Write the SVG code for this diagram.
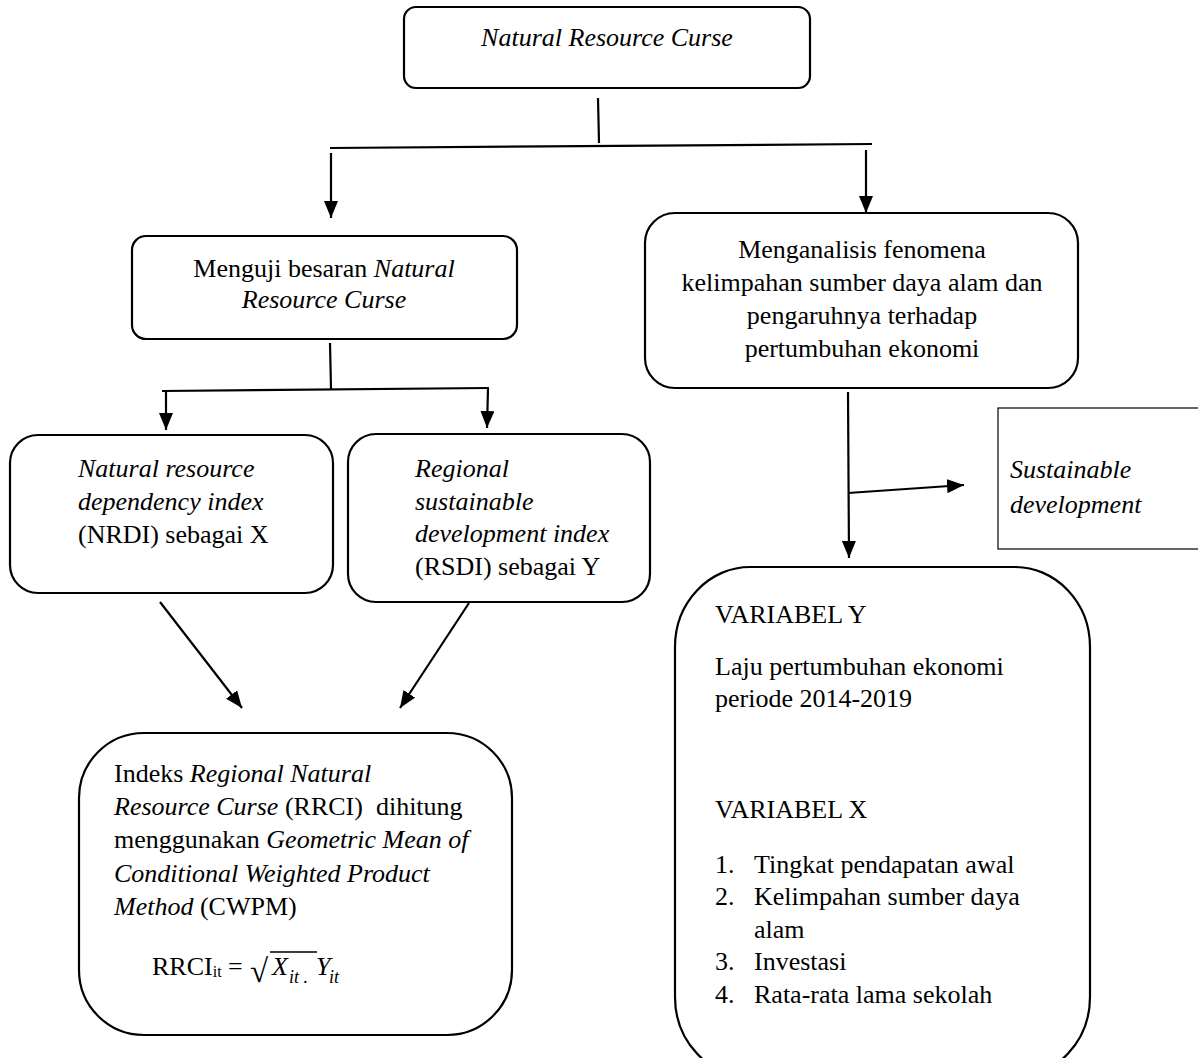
<svg xmlns="http://www.w3.org/2000/svg" width="1198" height="1058" viewBox="0 0 1198 1058">
<style>
text{font-family:"Liberation Serif","Times New Roman",serif;font-size:26px;fill:#000}
.i{font-style:italic}
.c{text-anchor:middle}
.box{fill:#fff;stroke:#000;stroke-width:2.2}
.thin{fill:#fff;stroke:#000;stroke-width:1.2}
.ln{stroke:#000;stroke-width:2.2;fill:none}
.sub{font-size:16px}
</style>
<defs>
<marker id="ah" markerUnits="userSpaceOnUse" markerWidth="18" markerHeight="15" refX="17" refY="7" orient="auto">
<path d="M0,0 L17,7 L0,14 z" fill="#000"/>
</marker>
</defs>
<rect width="1198" height="1058" fill="#fff"/>
<g id="connectors">
<line class="ln" x1="598" y1="98" x2="599" y2="143"/>
<line class="ln" x1="330" y1="148" x2="872" y2="144"/>
<line class="ln" x1="331" y1="153" x2="331" y2="218" marker-end="url(#ah)"/>
<line class="ln" x1="866" y1="150" x2="866" y2="213" marker-end="url(#ah)"/>
<line class="ln" x1="330" y1="343" x2="331" y2="389"/>
<line class="ln" x1="162" y1="391" x2="489" y2="388"/>
<line class="ln" x1="166" y1="391" x2="166" y2="430" marker-end="url(#ah)"/>
<line class="ln" x1="488" y1="388" x2="487" y2="428" marker-end="url(#ah)"/>
<line class="ln" x1="160" y1="602" x2="242" y2="708" marker-end="url(#ah)"/>
<line class="ln" x1="469" y1="603" x2="400" y2="708" marker-end="url(#ah)"/>
<line class="ln" x1="848" y1="392" x2="849" y2="558" marker-end="url(#ah)"/>
<line class="ln" x1="848" y1="493" x2="964" y2="485" marker-end="url(#ah)"/>
</g>
<g id="n-top">
<rect class="box" x="404" y="7" width="406" height="81" rx="12"/>
<text class="c i" x="607" y="46">Natural Resource Curse</text>
</g>
<g id="n-menguji">
<rect class="box" x="132" y="236" width="385" height="103" rx="14"/>
<text class="c" x="324" y="277">Menguji besaran <tspan class="i">Natural</tspan></text>
<text class="c i" x="324" y="308">Resource Curse</text>
</g>
<g id="n-menganalisis">
<rect class="box" x="645" y="213" width="433" height="175" rx="30"/>
<text class="c" x="862" y="258">Menganalisis fenomena</text>
<text class="c" x="862" y="291">kelimpahan sumber daya alam dan</text>
<text class="c" x="862" y="324">pengaruhnya terhadap</text>
<text class="c" x="862" y="357">pertumbuhan ekonomi</text>
</g>
<g id="n-nrdi">
<rect class="box" x="10" y="435" width="323" height="158" rx="28"/>
<text class="i" x="78" y="477">Natural resource</text>
<text class="i" x="78" y="510">dependency index</text>
<text x="78" y="543">(NRDI) sebagai X</text>
</g>
<g id="n-rsdi">
<rect class="box" x="348" y="434" width="302" height="168" rx="28"/>
<text class="i" x="415" y="477">Regional</text>
<text class="i" x="415" y="510">sustainable</text>
<text class="i" x="415" y="542">development index</text>
<text x="415" y="575">(RSDI) sebagai Y</text>
</g>
<g id="n-sustainable">
<rect class="thin" x="998" y="408" width="212" height="141"/>
<text class="i" x="1010" y="478">Sustainable</text>
<text class="i" x="1010" y="513">development</text>
</g>
<g id="n-rrci">
<rect class="box" x="79" y="733" width="433" height="302" rx="65"/>
<text x="114" y="782">Indeks <tspan class="i">Regional Natural</tspan></text>
<text x="114" y="815"><tspan class="i">Resource Curse</tspan> (RRCI) &#160;dihitung</text>
<text x="114" y="848">menggunakan <tspan class="i">Geometric Mean of</tspan></text>
<text x="114" y="882" class="i">Conditional Weighted Product</text>
<text x="114" y="915"><tspan class="i">Method</tspan> (CWPM)</text>
<text x="152" y="975">RRCI<tspan class="sub" dy="2">it</tspan><tspan dy="-2"> =</tspan></text>
<text x="250" y="982" style="font-size:33px">√</text>
<line x1="270" y1="952" x2="317" y2="952" stroke="#000" stroke-width="1.6"/>
<text class="i" x="272" y="975">X</text>
<text class="i" x="289" y="983" style="font-size:18px">it .</text>
<text class="i" x="316" y="975">Y</text>
<text class="i" x="329" y="983" style="font-size:18px">it</text>
</g>
<g id="n-variabel">
<rect class="box" x="675" y="567" width="415" height="510" rx="75" ry="80"/>
<text x="715" y="623">VARIABEL Y</text>
<text x="715" y="675">Laju pertumbuhan ekonomi</text>
<text x="715" y="707">periode 2014-2019</text>
<text x="715" y="818">VARIABEL X</text>
<text x="715" y="873">1.</text><text x="754" y="873">Tingkat pendapatan awal</text>
<text x="715" y="905">2.</text><text x="754" y="905">Kelimpahan sumber daya</text>
<text x="754" y="938">alam</text>
<text x="715" y="970">3.</text><text x="754" y="970">Investasi</text>
<text x="715" y="1003">4.</text><text x="754" y="1003">Rata-rata lama sekolah</text>
</g>
</svg>
